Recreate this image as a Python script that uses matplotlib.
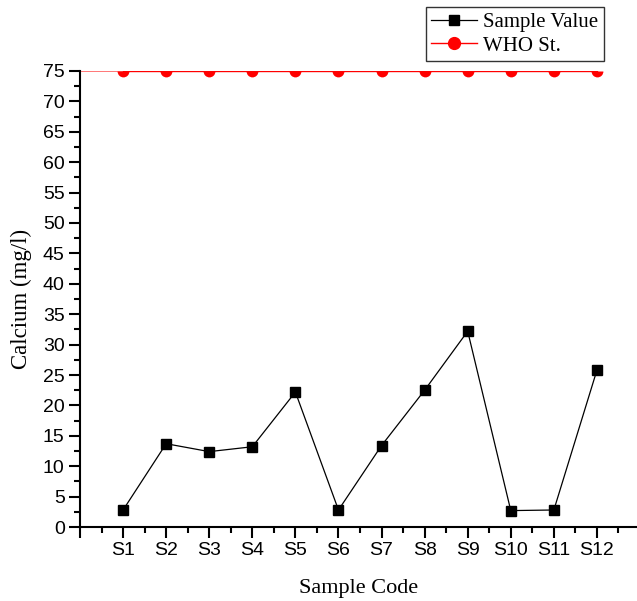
import matplotlib
matplotlib.use('Agg')
import matplotlib.pyplot as plt
from matplotlib.lines import Line2D
from matplotlib.ticker import MultipleLocator

# calcium concentration per sample, with the WHO guideline value
sample_codes = ['S1', 'S2', 'S3', 'S4', 'S5', 'S6', 'S7', 'S8', 'S9', 'S10', 'S11', 'S12']
calcium = [2.8, 13.7, 12.4, 13.2, 22.2, 2.8, 13.4, 22.5, 32.2, 2.7, 2.8, 25.8]
who_limit = [75] * len(sample_codes)

serif = ['Liberation Serif', 'DejaVu Serif']
sans = ['Liberation Sans', 'DejaVu Sans']

fig = plt.figure(figsize=(6.37, 6.01), dpi=100)
ax = fig.add_axes([0.1256, 0.1231, 0.8744, 0.7588])

x = list(range(1, len(sample_codes) + 1))
sample_line, = ax.plot(x, calcium, color='black', lw=0.9, marker='s', ms=7.5,
                       clip_on=False, zorder=3)
ax.hlines(who_limit[0], 0, x[-1], color='#ff6060', lw=1.2, zorder=2)
# the guideline sits on the top edge, so only the lower half of each dot shows
ax.plot(x, who_limit, color='red', lw=1.0, marker='o', ms=8.5,
        fillstyle='bottom', markerfacecoloralt='none', markeredgewidth=0,
        zorder=2)
who_handle = Line2D([], [], color='red', lw=1.0, marker='o', ms=8.5)

ax.set_xlim(0, 12.93)
ax.set_ylim(0, 75)

ax.set_xticks(range(0, 13))
ax.set_xticklabels([''] + sample_codes)
ax.xaxis.set_minor_locator(MultipleLocator(0.5))
ax.yaxis.set_major_locator(MultipleLocator(5))
ax.yaxis.set_minor_locator(MultipleLocator(2.5))

for side in ['top', 'right']:
    ax.spines[side].set_visible(False)
for side in ['left', 'bottom']:
    ax.spines[side].set_linewidth(1.5)

ax.tick_params(which='major', direction='out', length=8, width=1.5, pad=3)
ax.tick_params(which='minor', direction='out', length=4.5, width=1.5)
for lab in ax.get_xticklabels() + ax.get_yticklabels():
    lab.set_family(sans)
    lab.set_fontsize(14)

ax.set_xlabel('Sample Code', family=serif, fontsize=16, labelpad=14)
ax.set_ylabel('Calcium (mg/l)', family=serif, fontsize=16.5, labelpad=8)

leg = ax.legend([sample_line, who_handle], ['Sample Value', 'WHO St.'],
                loc='upper left', bbox_to_anchor=(0.621, 1.14),
                prop={'family': serif, 'size': 15}, frameon=True, fancybox=False,
                edgecolor='black', handlelength=2.2, handletextpad=0.3,
                borderpad=0.25, labelspacing=0.2, borderaxespad=0)
leg.get_frame().set_linewidth(1.0)

fig.savefig('out.png', dpi=100)
